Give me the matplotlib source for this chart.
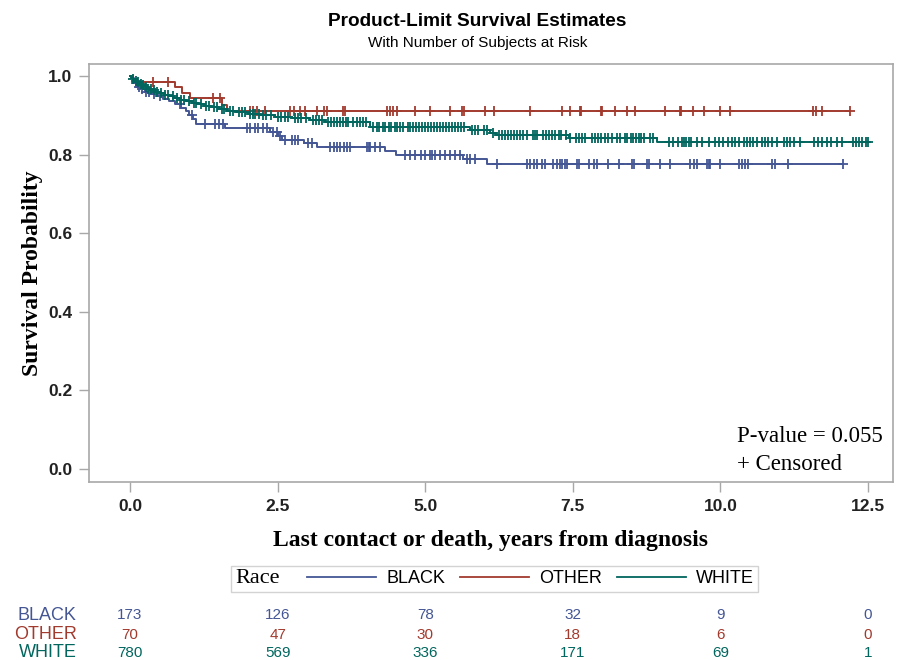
import numpy as np
import matplotlib
matplotlib.use("Agg")
import matplotlib.pyplot as plt
from matplotlib.transforms import blended_transform_factory
from matplotlib.lines import Line2D
from matplotlib.offsetbox import HPacker

# --- data ---
groups = ["BLACK", "OTHER", "WHITE"]
colors = ["#445694", "#A23A2E", "#01665E"]

black_t = [0.03, 0.07, 0.12, 0.18, 0.26, 0.36, 0.46, 0.56, 0.66, 0.76, 0.86, 0.94, 1.00,
           1.06, 1.12, 1.61, 2.37, 2.50, 2.58, 2.95, 3.17, 4.32, 4.50, 5.64, 6.05]
black_s = [0.994, 0.982, 0.972, 0.966, 0.960, 0.954, 0.948, 0.942, 0.936, 0.928, 0.918, 0.910, 0.900,
           0.890, 0.878, 0.868, 0.858, 0.848, 0.838, 0.830, 0.820, 0.810, 0.800, 0.790, 0.775]
black_end = 12.07
black_cens = [0.1, 0.15, 0.2, 0.27, 0.33, 0.4, 0.5, 0.85, 1.05, 1.27, 1.44, 1.5, 1.58,
              1.98, 2.03, 2.12, 2.17, 2.25, 2.32, 2.43, 2.49, 2.54, 2.63, 2.74, 2.8, 2.85,
              3.02, 3.08, 3.39, 3.45, 3.5, 3.56, 3.62, 3.67, 3.73, 4.01, 4.04, 4.07, 4.15, 4.24,
              4.66, 4.75, 4.83, 4.92, 5.0, 5.08, 5.11, 5.17, 5.25, 5.34, 5.42, 5.51, 5.59,
              5.71, 5.76, 5.85, 6.22, 6.72, 6.78, 6.84, 6.89, 6.98, 7.03, 7.17, 7.23, 7.29, 7.32,
              7.37, 7.4, 7.57, 7.6, 7.77, 7.85, 7.91, 8.1, 8.28, 8.5, 8.53, 8.76, 8.79, 8.98,
              9.15, 9.49, 9.55, 9.6, 9.77, 9.8, 9.83, 10.0, 10.31, 10.37, 10.42, 10.47,
              10.88, 10.93, 11.15, 12.07]

other_t = [0.05, 0.76, 0.88, 1.02, 1.56, 1.64]
other_s = [0.986, 0.971, 0.957, 0.943, 0.927, 0.911]
other_end = 12.2
other_cens = [0.39, 0.64, 1.41, 1.53, 2.03, 2.09, 2.15, 2.29, 2.71, 2.77, 2.88, 2.97, 3.16,
              3.28, 3.33, 3.61, 3.64, 4.35, 4.41, 4.46, 4.52, 4.83, 5.08, 5.42, 5.62, 5.65,
              6.02, 6.16, 6.77, 7.31, 7.45, 7.62, 7.64, 7.97, 7.99, 8.21, 8.42, 8.56, 9.06,
              9.31, 9.33, 9.54, 9.72, 9.99, 10.16, 11.57, 11.62, 11.72, 12.2]

white_t = [0.02, 0.05, 0.08, 0.12, 0.16, 0.2, 0.25, 0.3, 0.36, 0.42, 0.5, 0.58, 0.66, 0.75,
           0.85, 0.95, 1.05, 1.15, 1.25, 1.38, 1.5, 1.65, 1.8, 2.0, 2.2, 2.45, 2.75, 3.05,
           3.3, 4.07, 5.76, 6.10, 6.20, 7.43, 8.93]
white_s = [0.996, 0.992, 0.988, 0.984, 0.980, 0.976, 0.972, 0.968, 0.964, 0.960, 0.956, 0.952,
           0.948, 0.944, 0.940, 0.936, 0.932, 0.928, 0.924, 0.920, 0.916, 0.912, 0.908, 0.904,
           0.900, 0.896, 0.892, 0.888, 0.884, 0.871, 0.863, 0.855, 0.850, 0.842, 0.833]
white_end = 12.5
white_cens = [0.05, 0.1, 0.14, 0.18, 0.22, 0.27, 0.3, 0.35, 0.4, 0.45, 0.52, 0.6, 0.65, 0.72,
              0.8, 0.86, 0.92, 1.0, 1.08, 1.12, 1.2, 1.28, 1.33, 1.42, 1.47, 1.55, 1.6, 1.7,
              1.75, 1.85, 1.9, 1.95, 2.03, 2.08, 2.12, 2.18, 2.25, 2.3, 2.38, 2.5, 2.55, 2.62,
              2.68, 2.8, 2.85, 2.9, 2.98, 3.1, 3.15, 3.2, 3.25, 3.35, 3.4, 3.45, 3.5, 3.55,
              3.6, 3.65, 3.7, 3.78, 3.85, 3.9, 3.95, 4.0, 4.12, 4.18, 4.22, 4.28, 4.32, 4.38,
              4.42, 4.48, 4.52, 4.58, 4.62, 4.7, 4.75, 4.8, 4.85, 4.9, 4.95, 5.0, 5.05, 5.1,
              5.15, 5.2, 5.25, 5.3, 5.35, 5.4, 5.45, 5.5, 5.55, 5.6, 5.65, 5.8, 5.85, 5.9,
              6.0, 6.05, 6.15, 6.25, 6.3, 6.35, 6.4, 6.45, 6.5, 6.55, 6.6, 6.65, 6.72, 6.82,
              6.86, 6.9, 7.0, 7.05, 7.1, 7.15, 7.2, 7.27, 7.3, 7.38, 7.45, 7.55, 7.6, 7.65,
              7.7, 7.83, 7.88, 7.93, 7.98, 8.05, 8.1, 8.17, 8.25, 8.3, 8.38, 8.42, 8.48, 8.52,
              8.57, 8.62, 8.66, 8.7, 8.8, 8.85, 9.12, 9.2, 9.28, 9.35, 9.38, 9.42, 9.47, 9.5,
              9.6, 9.68, 9.8, 9.9, 9.97, 10.05, 10.12, 10.2, 10.25, 10.32, 10.4, 10.45, 10.5,
              10.55, 10.62, 10.7, 10.75, 10.8, 10.88, 10.95, 11.08, 11.13, 11.18, 11.25,
              11.35, 11.58, 11.65, 11.72, 11.8, 11.88, 11.97, 12.05, 12.25, 12.3, 12.35,
              12.4, 12.47, 12.5]

risk_times = [0, 2.5, 5, 7.5, 10, 12.5]
risk_black = [173, 126, 78, 32, 9, 0]
risk_other = [70, 47, 30, 18, 6, 0]
risk_white = [780, 569, 336, 171, 69, 1]

curves = [(black_t, black_s, black_end, black_cens, risk_black),
          (other_t, other_s, other_end, other_cens, risk_other),
          (white_t, white_s, white_end, white_cens, risk_white)]

sans = ["Liberation Sans", "Arial", "DejaVu Sans"]
serif = ["Liberation Serif", "Times New Roman", "DejaVu Serif"]

fig = plt.figure(figsize=(9.01, 6.60), dpi=100)
ax = fig.add_axes([0.0988, 0.2697, 0.8922, 0.6333])

for (t, s, end, cens, _), col in zip(curves, colors):
    tt = np.array([0.0] + t + [end])
    ss = np.array([1.0] + s + [s[-1]])
    ax.plot(tt, ss, drawstyle="steps-post", color=col, lw=1.4, zorder=3)
    c = np.array(cens)
    idx = np.searchsorted(tt, c, side="right") - 1
    ax.plot(c, ss[idx], ls="none", marker="+", ms=7.5, mew=1.3, color=col, zorder=4)

ax.set_xlim(-0.694, 12.92)
ax.set_ylim(-0.033, 1.0305)
ax.set_xticks([0, 2.5, 5, 7.5, 10, 12.5])
ax.set_xticklabels(["0.0", "2.5", "5.0", "7.5", "10.0", "12.5"])
ax.set_yticks([0, 0.2, 0.4, 0.6, 0.8, 1.0])
ax.set_yticklabels(["0.0", "0.2", "0.4", "0.6", "0.8", "1.0"])
for sp in ax.spines.values():
    sp.set_color("#a8a8a8")
    sp.set_linewidth(1.2)
ax.tick_params(colors="#a8a8a8", length=7, width=1, direction="out")
for lab in ax.get_xticklabels() + ax.get_yticklabels():
    lab.set_color("#222222")
    lab.set_family(sans)
    lab.set_fontweight("bold")
    lab.set_fontsize(12.5)
ax.tick_params(axis="x", pad=5)
ax.tick_params(axis="y", pad=5)

ax.set_ylabel("Survival Probability", family=serif, fontweight="bold", fontsize=17, labelpad=4)
ax.set_xlabel("Last contact or death, years from diagnosis", family=serif,
              fontweight="bold", fontsize=17, labelpad=12)

ax.text(0.806, 0.108, "P-value = 0.055", transform=ax.transAxes, family=serif,
        fontsize=16.5, va="center")
ax.text(0.806, 0.043, "+ Censored", transform=ax.transAxes, family=serif,
        fontsize=16.5, va="center")

fig.text(0.53, 0.968, "Product-Limit Survival Estimates", ha="center", va="center",
         family=sans, fontweight="bold", fontsize=13.7)
fig.text(0.53, 0.935, "With Number of Subjects at Risk", ha="center", va="center",
         family=sans, fontsize=11)

# legend, title on the same row as the entries
handles = [Line2D([], [], color=c, lw=1.3) for c in colors]
leg = fig.legend(handles, groups, loc="center", bbox_to_anchor=(0.549, 0.123), ncol=3,
                 title="Race", frameon=True, fancybox=False, handlelength=3.8,
                 handletextpad=0.6, columnspacing=0.8, borderpad=0.2,
                 prop={"family": sans, "size": 13})
leg.get_frame().set_edgecolor("#c8c8c8")
leg.get_frame().set_linewidth(1.0)
title = leg.get_title()
title.set_family(serif)
title.set_fontsize(16)
leg._legend_box._children = [leg._legend_title_box, leg._legend_handle_box]
leg._legend_box.__class__ = HPacker
leg._legend_box.sep = 20
leg._legend_box.align = "center"

# at-risk table
trans = blended_transform_factory(ax.transData, fig.transFigure)
row_y = [0.068, 0.038, 0.011]
for (_, _, _, _, risk), col, name, y in zip(curves, colors, groups, row_y):
    fig.text(0.085, y, name, ha="right", va="center", color=col, family=sans, fontsize=13)
    for t, n in zip(risk_times, risk):
        ax.text(t, y, str(n), transform=trans, ha="center", va="center", color=col,
                family=sans, fontsize=11)

fig.savefig("out.png", dpi=100)
